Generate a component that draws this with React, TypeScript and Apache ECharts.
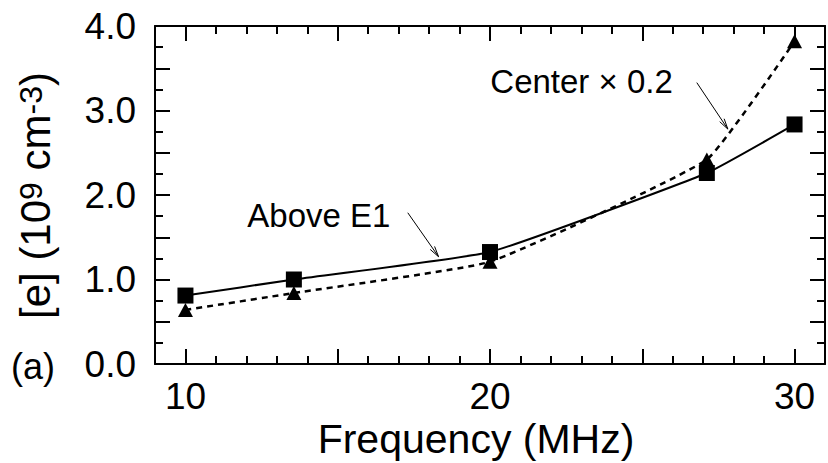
import React, { useEffect, useRef } from "react";
import * as echarts from "echarts";

const FONT = '"Liberation Sans", Arial, Helvetica, sans-serif';

// Data (MHz, 10^9 cm^-3)
const frequencies = [10, 13.56, 20, 27.12, 30];
const aboveE1 = [0.81, 1.0, 1.325, 2.26, 2.835];
const centerScaled = [0.64, 0.84, 1.21, 2.42, 3.82];

// Axis ranges / tick steps / labels
const X_MIN = 9;
const X_MAX = 31;
const Y_MIN = 0;
const Y_MAX = 4;
const X_MAJOR_STEP = 5;
const X_MINOR_STEP = 1;
const Y_MAJOR_STEP = 0.5;
const Y_MINOR_STEP = 0.25;
const xLabelValues = [10, 20, 30];
const yLabelValues = [0, 1, 2, 3, 4];

// Annotations in data coordinates
const annotationTexts = ["Above E1", "Center × 0.2"];
const annotationTextAt = [
  [12.03, 1.763],
  [20.01, 3.34],
];
const annotationTails = [
  [17.3, 1.79],
  [26.79, 3.33],
];
const annotationTips = [
  [18.31, 1.27],
  [27.81, 2.78],
];

const near = (a: number, b: number) => Math.abs(a - b) < 1e-6;

function xAxisDef(position: string, step: number, len: number, showLine: boolean, labels?: number[]) {
  // Major ticks (step 5) are produced by the nice-tick algorithm (not counted from min = 9),
  // minor ticks (step 1) use an explicit interval since min is a multiple of 1.
  const stepOpts =
    step === X_MINOR_STEP ? { interval: step } : { minInterval: step, maxInterval: step, splitNumber: 5 };
  return {
    type: "value",
    gridIndex: 0,
    position,
    min: X_MIN,
    max: X_MAX,
    ...stepOpts,
    splitLine: { show: false },
    axisLine: { show: showLine, onZero: false, lineStyle: { color: "#000", width: 2 } },
    axisTick: {
      show: true,
      inside: true,
      length: len,
      lineStyle: { color: "#000", width: 2 },
    },
    axisLabel: labels
      ? {
          show: true,
          showMinLabel: true,
          showMaxLabel: true,
          hideOverlap: false,
          formatter: (v: number) => (labels.some((l) => near(l, v)) ? String(v) : ""),
          fontSize: 37,
          fontFamily: FONT,
          color: "#000",
          margin: 14,
        }
      : { show: false },
  };
}

function yAxisDef(position: string, step: number, len: number, showLine: boolean, labels?: number[]) {
  return {
    type: "value",
    gridIndex: 0,
    position,
    min: Y_MIN,
    max: Y_MAX,
    interval: step,
    splitLine: { show: false },
    axisLine: { show: showLine, onZero: false, lineStyle: { color: "#000", width: 2 } },
    axisTick: {
      show: true,
      inside: true,
      length: len,
      lineStyle: { color: "#000", width: 2 },
    },
    axisLabel: labels
      ? {
          show: true,
          showMinLabel: true,
          showMaxLabel: true,
          hideOverlap: false,
          formatter: (v: number) => (labels.some((l) => near(l, v)) ? v.toFixed(1) : ""),
          fontSize: 37,
          fontFamily: FONT,
          color: "#000",
          margin: 19,
          padding: [5, 0, 0, 0],
        }
      : { show: false },
  };
}

export default function App() {
  const ref = useRef<HTMLDivElement>(null);

  useEffect(() => {
    if (!ref.current) return;
    const chart = echarts.init(ref.current, undefined, { renderer: "svg" });

    chart.setOption({
      animation: false,
      backgroundColor: "#fff",
      grid: { left: 155, top: 26, width: 676, height: 338, containLabel: false },
      xAxis: [
        xAxisDef("bottom", X_MAJOR_STEP, 15, true, xLabelValues),
        xAxisDef("top", X_MAJOR_STEP, 15, true),
        xAxisDef("bottom", X_MINOR_STEP, 8, false),
        xAxisDef("top", X_MINOR_STEP, 8, false),
      ],
      yAxis: [
        yAxisDef("left", Y_MAJOR_STEP, 15, true, yLabelValues),
        yAxisDef("right", Y_MAJOR_STEP, 15, true),
        yAxisDef("left", Y_MINOR_STEP, 8, false),
        yAxisDef("right", Y_MINOR_STEP, 8, false),
      ],
      series: [
        {
          name: "Center x 0.2",
          type: "line",
          xAxisIndex: 0,
          yAxisIndex: 0,
          data: frequencies.map((f, i) => [f, centerScaled[i]]),
          smooth: 0.12,
          symbol: "triangle",
          symbolSize: [15, 14],
          itemStyle: { color: "#000" },
          lineStyle: { color: "#000", width: 2.5, type: [6, 5] },
          z: 2,
        },
        {
          name: "Above E1",
          type: "line",
          xAxisIndex: 0,
          yAxisIndex: 0,
          data: frequencies.map((f, i) => [f, aboveE1[i]]),
          smooth: 0.12,
          symbol: "rect",
          symbolSize: 16,
          itemStyle: { color: "#000" },
          lineStyle: { color: "#000", width: 2, type: "solid" },
          z: 3,
        },
      ],
    });

    const toPx = (p: number[]) => chart.convertToPixel({ seriesIndex: 0 }, p) as number[];
    const graphics: any[] = [];
    annotationTexts.forEach((t, i) => {
      const tp = toPx(annotationTextAt[i]);
      const tail = toPx(annotationTails[i]);
      const tip = toPx(annotationTips[i]);
      graphics.push({
        type: "text",
        x: tp[0],
        y: tp[1],
        style: {
          text: t,
          fontSize: 33,
          fontFamily: FONT,
          fill: "#000",
          align: "left",
          verticalAlign: "middle",
        },
      });
      graphics.push({
        type: "line",
        shape: { x1: tail[0], y1: tail[1], x2: tip[0], y2: tip[1] },
        style: { stroke: "#000", lineWidth: 1 },
      });
      const dx = tail[0] - tip[0];
      const dy = tail[1] - tip[1];
      const L = Math.hypot(dx, dy);
      const ux = dx / L;
      const uy = dy / L;
      const ang = (14 * Math.PI) / 180;
      const len = 11;
      [ang, -ang].forEach((a) => {
        const rx = ux * Math.cos(a) - uy * Math.sin(a);
        const ry = ux * Math.sin(a) + uy * Math.cos(a);
        graphics.push({
          type: "line",
          shape: { x1: tip[0], y1: tip[1], x2: tip[0] + rx * len, y2: tip[1] + ry * len },
          style: { stroke: "#000", lineWidth: 1 },
        });
      });
    });

    graphics.push({
      type: "text",
      x: 476,
      y: 439,
      style: {
        text: "Frequency (MHz)",
        fontSize: 41,
        fontFamily: FONT,
        fill: "#000",
        align: "center",
        verticalAlign: "middle",
      },
    });
    graphics.push({
      type: "text",
      x: 33,
      y: 366,
      style: {
        text: "(a)",
        fontSize: 36,
        fontFamily: FONT,
        fill: "#000",
        align: "center",
        verticalAlign: "middle",
      },
    });
    graphics.push({
      type: "text",
      x: 35.5,
      y: 195.5,
      rotation: Math.PI / 2,
      style: {
        text: "{m|[e] (10}{s|9}{m| cm}{s|-3}{m|)}",
        align: "center",
        verticalAlign: "middle",
        fill: "#000",
        rich: {
          m: { fontSize: 42, fontFamily: FONT, fill: "#000", lineHeight: 42 },
          s: { fontSize: 32, fontFamily: FONT, fill: "#000", lineHeight: 12, verticalAlign: "top" },
        },
      },
    });

    chart.setOption({ graphic: graphics });

    return () => chart.dispose();
  }, []);

  return (
    <div
      ref={ref}
      style={{ position: "absolute", left: 0, top: 0, width: 828, height: 463, background: "#fff" }}
    />
  );
}
